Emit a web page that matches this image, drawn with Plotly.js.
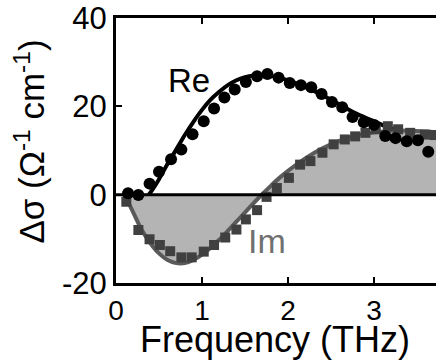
<!DOCTYPE html>
<html>
<head>
<meta charset="utf-8">
<script src="https://cdn.plot.ly/plotly-3.0.1.min.js"></script>
<style>html,body{margin:0;padding:0;background:#fff;overflow:hidden;}#chart{width:436px;height:362px;}</style>
</head>
<body>
<div id="chart"></div>
<script>
// Measured Re(Δσ) points
const reFreq = [0.14,0.26,0.39,0.50,0.64,0.76,0.89,1.02,1.14,1.26,1.38,1.51,1.64,1.76,1.89,2.02,2.15,2.27,2.39,2.51,2.63,2.75,2.88,3.00,3.13,3.25,3.38,3.51,3.63];
const reVals = [0.3,-0.1,2.5,5.2,8.0,10.2,13.7,16.6,19.5,22.0,23.8,25.5,26.8,27.3,26.5,25.3,24.8,24.3,22.8,21.0,19.8,17.6,16.4,15.8,13.3,12.8,12.1,12.3,9.7];
// Measured Im(Δσ) points
const imFreq = [0.12,0.26,0.39,0.51,0.63,0.76,0.88,1.02,1.14,1.27,1.40,1.51,1.64,1.75,1.87,2.01,2.14,2.26,2.40,2.53,2.66,2.78,2.90,3.02,3.16,3.28,3.42,3.59,3.70];
const imVals = [-1.6,-8.0,-10.1,-11.4,-12.8,-14.2,-14.2,-12.9,-11.4,-9.7,-7.9,-5.6,-3.5,-0.5,1.5,3.8,6.8,7.6,9.5,11.4,12.5,13.2,14.0,14.8,15.5,14.8,14.0,13.6,13.5];
// Fit curves
const fitFreq = [0.1,0.2,0.3,0.4,0.5,0.6,0.7,0.8,0.9,1.0,1.1,1.2,1.3,1.4,1.5,1.6,1.7,1.8,1.9,2.0,2.2,2.4,2.6,2.8,3.0,3.2,3.4,3.6,3.8];
const reFit = [0,-1.2,-1.5,0.5,3.5,7.0,10.2,13.5,16.5,19.2,21.5,23.3,24.8,25.9,26.6,27.0,27.1,26.9,26.5,25.9,24.4,22.5,20.4,18.3,16.6,15.0,14.0,13.3,12.8];
const imFit = [0,-4.0,-8.0,-11.0,-13.3,-14.8,-15.5,-15.5,-14.8,-13.6,-12.0,-10.2,-8.2,-6.1,-4.0,-1.9,0.1,2.0,3.8,5.4,8.2,10.5,12.2,13.4,14.1,14.5,14.5,14.3,14.0];
const yTicks = [-20,0,20,40];
const xTicks = [0,1,2,3];

const FONT = 'Liberation Sans, Arial, sans-serif';

const traces = [
  {x: fitFreq, y: reFit, mode: 'lines', line: {color: '#000', width: 4, shape: 'spline'}, hoverinfo: 'skip'},
  {x: fitFreq, y: imFit, mode: 'lines', line: {color: '#5a5a5a', width: 4, shape: 'spline'}, fill: 'tozeroy', fillcolor: '#b4b4b4', hoverinfo: 'skip'},
  {x: imFreq, y: imVals, mode: 'markers', marker: {symbol: 'square', size: 10, color: '#404040'}},
  {x: reFreq, y: reVals, mode: 'markers', marker: {symbol: 'circle', size: 12, color: '#000'}}
];

const layout = {
  width: 436, height: 362,
  margin: {l: 116, r: 0, t: 18, b: 79},
  paper_bgcolor: '#fff', plot_bgcolor: '#fff',
  showlegend: false,
  font: {family: FONT, color: '#000', size: 30},
  xaxis: {
    range: [0, 3.72], tickvals: xTicks, ticktext: xTicks.map(String),
    showgrid: false, zeroline: false,
    showline: true, linecolor: '#000', linewidth: 3, mirror: 'ticks',
    ticks: 'inside', ticklen: 6, tickwidth: 2, tickcolor: '#000',
    tickfont: {family: FONT, size: 28, color: '#000'},
    automargin: false
  },
  yaxis: {
    range: [-20, 40], tickvals: yTicks, ticktext: yTicks.map(String),
    showgrid: false, zeroline: false,
    showline: true, linecolor: '#000', linewidth: 3, mirror: false,
    ticks: 'inside', ticklen: 6, tickwidth: 2, tickcolor: '#000',
    tickfont: {family: FONT, size: 31, color: '#000'},
    automargin: false
  },
  shapes: [
    {type: 'line', xref: 'paper', yref: 'y', x0: 0, x1: 1, y0: 0, y1: 0, line: {color: '#000', width: 3}, layer: 'above'}
  ],
  annotations: [
    {xref: 'paper', yref: 'paper', x: -0.27, y: 0.532, xanchor: 'center', yanchor: 'middle', textangle: -90, showarrow: false,
     text: 'Δσ (Ω<sup>-1</sup> cm<sup>-1</sup>)', font: {family: FONT, size: 35, color: '#000'}},
    {xref: 'paper', yref: 'paper', x: 0.498, y: -0.215, xanchor: 'center', yanchor: 'middle', showarrow: false,
     text: 'Frequency (THz)', font: {family: FONT, size: 36, color: '#000'}},
    {xref: 'x', yref: 'y', x: 0.85, y: 25.9, showarrow: false, text: 'Re', font: {family: FONT, size: 33, color: '#000'}},
    {xref: 'x', yref: 'y', x: 1.75, y: -10.4, showarrow: false, text: 'Im', font: {family: FONT, size: 34, color: '#707070'}}
  ]
};

Plotly.newPlot('chart', traces, layout, {staticPlot: true, displayModeBar: false});
</script>
</body>
</html>
